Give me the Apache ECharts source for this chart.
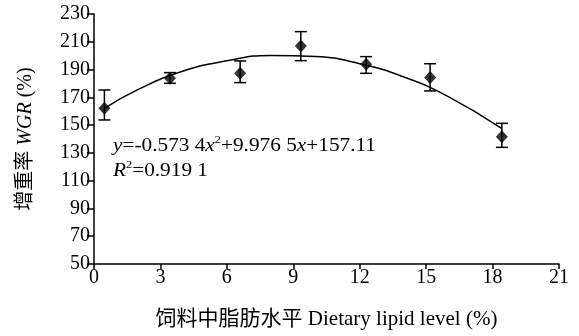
<!DOCTYPE html>
<html><head><meta charset="utf-8">
<script src="https://cdn.jsdelivr.net/npm/echarts@6/dist/echarts.min.js"></script>
<style>html,body{margin:0;padding:0;background:#fff}#c{width:579px;height:336px}</style>
</head><body><div id="c"></div>
<script>
// Dietary lipid level (%) of each group
const lipidLevels = [0.47, 3.43, 6.6, 9.34, 12.29, 15.18, 18.42];
// Weight gain rate WGR (%) means
const wgrMeans = [162.1, 183.7, 187.3, 207.0, 193.8, 184.2, 141.7];
// Error bar low / high ends
const errLow  = [153.7, 180.1, 180.6, 196.4, 187.3, 174.6, 134.0];
const errHigh = [175.3, 187.8, 196.2, 217.3, 199.3, 194.2, 151.3];
// Fitted curve
const curveX = [0.47, 2, 4, 6, 8, 10, 12, 14, 16, 18.42];
const curveY = [162.0, 175.7, 188.8, 196.3, 200.2, 199.4, 194.2, 184.6, 170.5, 147.5];
// Axis ticks
const xTicks = [0, 3, 6, 9, 12, 15, 18, 21];
const yTicks = [50, 70, 90, 110, 130, 150, 170, 190, 210, 230];

const FONT = '"Liberation Serif", "Noto Sans CJK SC", serif';
const supStyle = {fontSize: 11, fontFamily: FONT, verticalAlign: 'top', padding: [0, 0, 11, 0]};
const itStyle = {fontStyle: 'italic', fontFamily: FONT, fontSize: 19};
const chart = echarts.init(document.getElementById('c'), null, {renderer: 'canvas'});
chart.setOption({
  animation: false,
  backgroundColor: '#fff',
  grid: {left: 94, right: 20, top: 14, bottom: 72},
  xAxis: {
    type: 'value', min: xTicks[0], max: xTicks[xTicks.length - 1], interval: 3,
    axisLine: {lineStyle: {color: '#000', width: 1.5}},
    axisTick: {show: true, length: 5, lineStyle: {color: '#000', width: 1.5}},
    axisLabel: {color: '#000', fontFamily: FONT, fontSize: 20, margin: 4},
    splitLine: {show: false},
    name: '饲料中脂肪水平 Dietary lipid level (%)',
    nameLocation: 'middle', nameGap: 45,
    nameTextStyle: {color: '#000', fontFamily: FONT, fontSize: 21}
  },
  yAxis: {
    type: 'value', min: yTicks[0], max: yTicks[yTicks.length - 1], interval: 20,
    axisLine: {show: true, lineStyle: {color: '#000', width: 1.5}},
    axisTick: {show: true, length: 7, lineStyle: {color: '#000', width: 1.5}},
    axisLabel: {color: '#000', fontFamily: FONT, fontSize: 20, margin: 4},
    splitLine: {show: false},
    name: '增重率 {i|WGR} (%)',
    nameLocation: 'middle', nameGap: 58, nameRotate: 90,
    nameTextStyle: {color: '#000', fontFamily: FONT, fontSize: 20,
      rich: {i: {fontStyle: 'italic', fontFamily: FONT, fontSize: 20, color: '#000'}}}
  },
  series: [
    {
      type: 'line', data: curveX.map((x, i) => [x, curveY[i]]),
      smooth: 0.5, showSymbol: false, symbol: 'none',
      lineStyle: {color: '#000', width: 1.5}, z: 2
    },
    {
      type: 'custom',
      data: lipidLevels.map((x, i) => [x, errLow[i], errHigh[i]]),
      renderItem: function (params, api) {
        const lo = api.coord([api.value(0), api.value(1)]);
        const hi = api.coord([api.value(0), api.value(2)]);
        const hw = 6;
        const st = {stroke: '#000', lineWidth: 1.5};
        return {type: 'group', children: [
          {type: 'line', shape: {x1: lo[0], y1: lo[1], x2: hi[0], y2: hi[1]}, style: st},
          {type: 'line', shape: {x1: lo[0] - hw, y1: lo[1], x2: lo[0] + hw, y2: lo[1]}, style: st},
          {type: 'line', shape: {x1: hi[0] - hw, y1: hi[1], x2: hi[0] + hw, y2: hi[1]}, style: st}
        ]};
      },
      z: 3
    },
    {
      type: 'scatter', data: lipidLevels.map((x, i) => [x, wgrMeans[i]]),
      symbol: 'diamond', symbolSize: [12, 13],
      itemStyle: {color: '#000'}, z: 4
    }
  ],
  graphic: [
    {type: 'text', x: 113, y: 135, scaleX: 1.12, style: {
      text: '{i|y}=-0.573 4{i|x}{s|2}+9.976 5{i|x}+157.11',
      font: '19px ' + FONT, fill: '#000',
      rich: {i: itStyle, s: supStyle}
    }},
    {type: 'text', x: 113, y: 160, scaleX: 1.12, style: {
      text: '{i|R}{s|2}=0.919 1',
      font: '19px ' + FONT, fill: '#000',
      rich: {i: itStyle, s: supStyle}
    }}
  ]
});
</script></body></html>
